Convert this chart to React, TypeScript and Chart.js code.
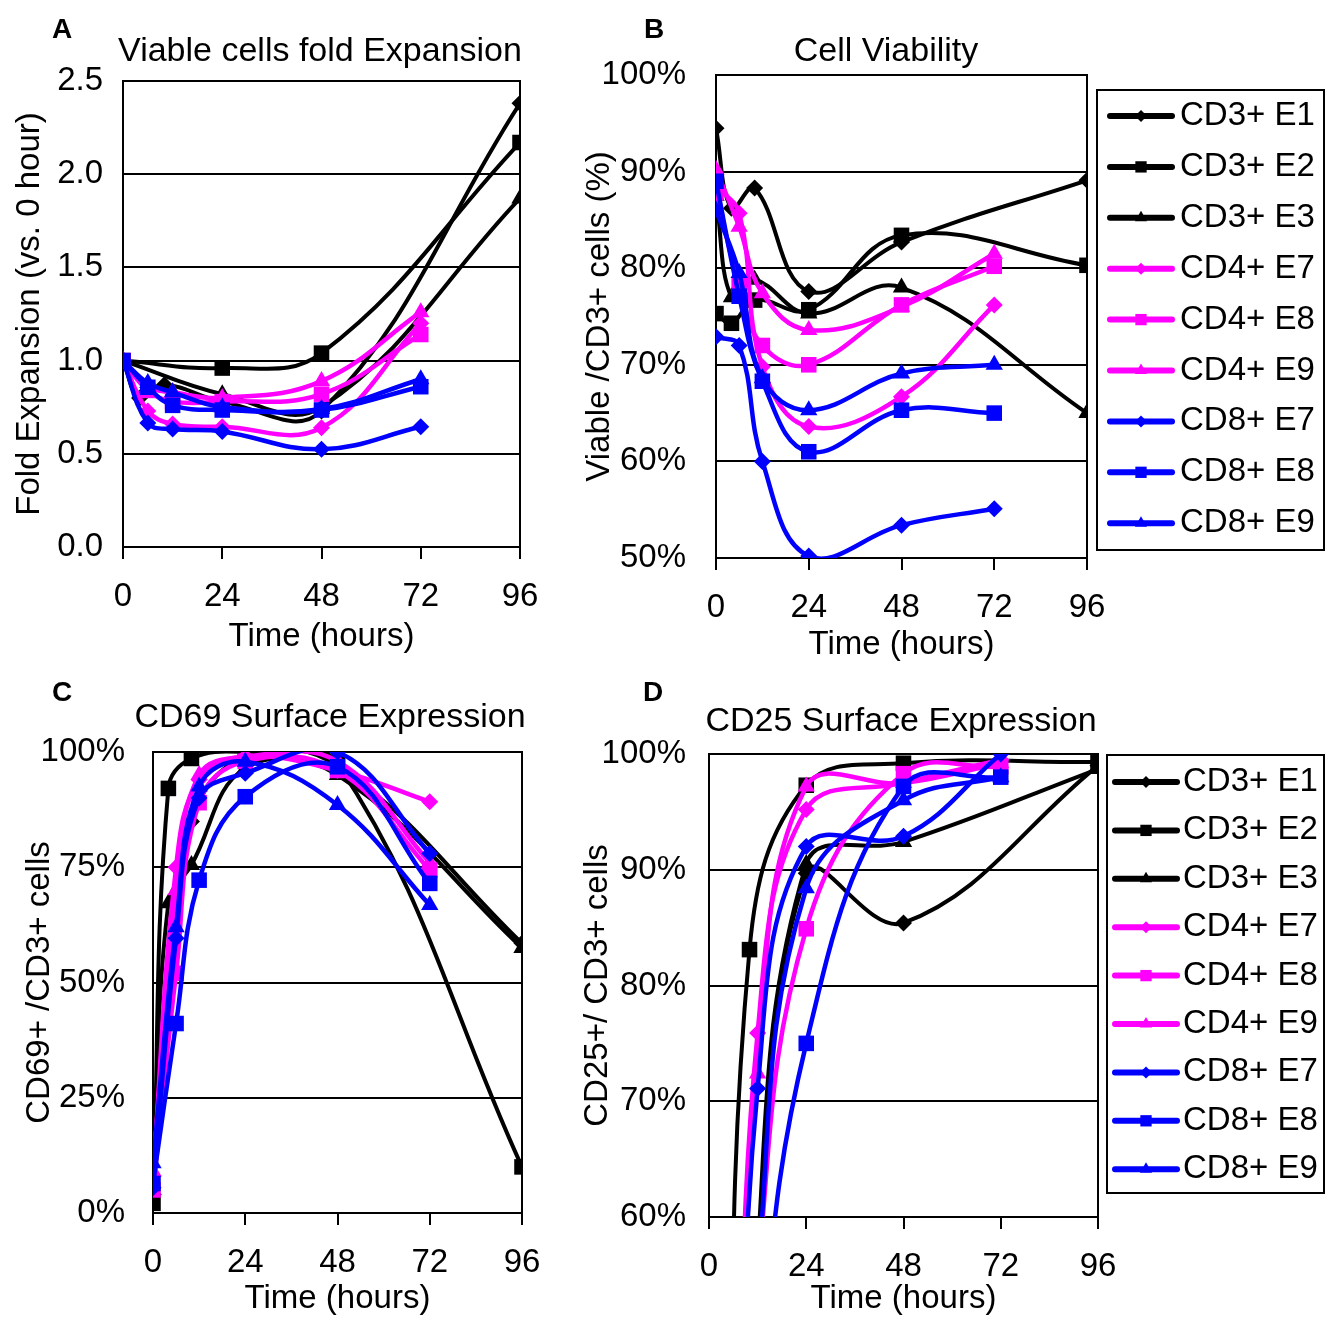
import React, { useEffect, useRef } from 'react';
import { Chart, registerables } from 'chart.js';

Chart.register(...registerables);

const FONT = '"Liberation Sans", Arial, Helvetica, sans-serif';
const FS = 33;
const TITLE_FS = 34;

// ---------- categories / ticks ----------
const seriesNames = ['CD3+ E1', 'CD3+ E2', 'CD3+ E3', 'CD4+ E7', 'CD4+ E8', 'CD4+ E9', 'CD8+ E7', 'CD8+ E8', 'CD8+ E9'];
const timeTicks = [0, 24, 48, 72, 96];
const hoursCD3 = [0, 4, 10, 24, 48, 96];
const hoursCD3Sparse = [0, 24, 48, 96];
const hoursSubset = [0, 6, 12, 24, 48, 72];

const foldTicks = [0, 0.5, 1, 1.5, 2, 2.5];
const viabilityTicks = [50, 60, 70, 80, 90, 100];
const cd69Ticks = [0, 25, 50, 75, 100];
const cd25Ticks = [60, 70, 80, 90, 100];

// ---------- Panel A: fold expansion ----------
const foldCD3E1 = [1.0, 0.8, 0.87, 0.78, 0.73, 2.38];
const foldCD3E2 = [1.0, 0.96, 1.04, 2.17];
const foldCD3E3 = [1.0, 0.82, 0.75, 1.87];
const foldCD4E7 = [1.0, 0.73, 0.66, 0.645, 0.64, 1.2];
const foldCD4E8 = [1.0, 0.84, 0.78, 0.78, 0.82, 1.14];
const foldCD4E9 = [1.0, 0.86, 0.83, 0.8, 0.89, 1.26];
const foldCD8E7 = [1.0, 0.665, 0.633, 0.62, 0.524, 0.645];
const foldCD8E8 = [1.0, 0.857, 0.76, 0.735, 0.735, 0.86];
const foldCD8E9 = [1.0, 0.88, 0.83, 0.75, 0.74, 0.9];

// ---------- Panel B: viability (%) ----------
const viaCD3E1 = [94.5, 86.2, 88.3, 77.6, 82.7, 89.1];
const viaCD3E2 = [75.3, 74.3, 76.7, 75.7, 83.4, 80.3];
const viaCD3E3 = [87.5, 77.0, 78.8, 75.3, 78.0, 65.0];
const viaCD4E7 = [88.5, 85.7, 69.8, 63.6, 66.7, 76.2];
const viaCD4E8 = [87.8, 78.3, 72.0, 70.0, 76.2, 80.2];
const viaCD4E9 = [90.2, 84.3, 77.4, 73.6, 76.0, 81.5];
const viaCD8E7 = [72.9, 72.0, 60.0, 50.2, 53.4, 55.1];
const viaCD8E8 = [89.0, 77.1, 68.3, 61.0, 65.3, 65.0];
const viaCD8E9 = [86.0, 79.5, 68.6, 65.3, 69.1, 70.0];

// ---------- Panel C: CD69 (%) ----------
const cd69CD3E1 = [4, 41.9, 84.9, 99.0, 97.0, 58.5];
const cd69CD3E2 = [2.1, 92.1, 98.6, 100, 97.5, 10.0];
const cd69CD3E3 = [5, 67.2, 75.5, 96.5, 95.0, 57.5];
const cd69CD4E7 = [8, 75.0, 94.0, 99.0, 96.0, 89.2];
const cd69CD4E8 = [5, 52.0, 89.0, 98.0, 96.0, 74.4];
const cd69CD4E9 = [9, 70.0, 95.0, 99.0, 98.0, 76.0];
const cd69CD8E7 = [5.5, 59.6, 90.0, 95.4, 100, 78.0];
const cd69CD8E8 = [6.4, 41.1, 72.2, 90.3, 96.8, 71.5];
const cd69CD8E9 = [10.8, 62.0, 92.5, 97.9, 88.5, 66.8];

// ---------- Panel D: CD25 (%) ----------
const cd25CD3E1 = [3, 20, 45, 89.7, 85.4, 99.0];
const cd25CD3E2 = [2, 20, 83.1, 97.3, 99.2, 99.3];
const cd25CD3E3 = [3, 22, 48, 90.5, 92.4, 98.7];
const cd25CD4E7 = [3, 30, 75.9, 95.2, 97.5, 99.5];
const cd25CD4E8 = [2, 22, 55, 84.9, 98.3, 98.9];
const cd25CD4E9 = [3, 28, 72.4, 97.2, 97.5, 99.2];
const cd25CD8E7 = [3, 26, 71.1, 92.0, 92.9, 100];
const cd25CD8E8 = [2, 15, 45, 75.0, 97.2, 98.0];
const cd25CD8E9 = [2, 20, 55, 88.4, 96.0, 98.0];

const panelASeries = [
  [hoursCD3, foldCD3E1], [hoursCD3Sparse, foldCD3E2], [hoursCD3Sparse, foldCD3E3],
  [hoursSubset, foldCD4E7], [hoursSubset, foldCD4E8], [hoursSubset, foldCD4E9],
  [hoursSubset, foldCD8E7], [hoursSubset, foldCD8E8], [hoursSubset, foldCD8E9],
];
const panelBSeries = [
  [hoursCD3, viaCD3E1], [hoursCD3, viaCD3E2], [hoursCD3, viaCD3E3],
  [hoursSubset, viaCD4E7], [hoursSubset, viaCD4E8], [hoursSubset, viaCD4E9],
  [hoursSubset, viaCD8E7], [hoursSubset, viaCD8E8], [hoursSubset, viaCD8E9],
];
const panelCSeries = [
  [hoursCD3, cd69CD3E1], [hoursCD3, cd69CD3E2], [hoursCD3, cd69CD3E3],
  [hoursSubset, cd69CD4E7], [hoursSubset, cd69CD4E8], [hoursSubset, cd69CD4E9],
  [hoursSubset, cd69CD8E7], [hoursSubset, cd69CD8E8], [hoursSubset, cd69CD8E9],
];
const panelDSeries = [
  [hoursCD3, cd25CD3E1], [hoursCD3, cd25CD3E2], [hoursCD3, cd25CD3E3],
  [hoursSubset, cd25CD4E7], [hoursSubset, cd25CD4E8], [hoursSubset, cd25CD4E9],
  [hoursSubset, cd25CD8E7], [hoursSubset, cd25CD8E8], [hoursSubset, cd25CD8E9],
];

// ---------- styles ----------
const seriesColors = ['#000000', '#000000', '#000000', '#ff00ff', '#ff00ff', '#ff00ff', '#0000ff', '#0000ff', '#0000ff'];
const seriesMarkers = ['rectRot', 'rect', 'triangle', 'rectRot', 'rect', 'triangle', 'rectRot', 'rect', 'triangle'];
const markerRadius: Record<string, number> = { rectRot: 8.5, rect: 11, triangle: 10 };
const legendMarkerRadius: Record<string, number> = { rectRot: 6, rect: 8, triangle: 7 };

function drawMarker(ctx: CanvasRenderingContext2D, style: string, x: number, y: number, r: number, color: string) {
  ctx.beginPath();
  if (style === 'rect') {
    const s = r * Math.SQRT1_2;
    ctx.rect(x - s, y - s, 2 * s, 2 * s);
  } else if (style === 'rectRot') {
    ctx.moveTo(x, y - r);
    ctx.lineTo(x + r, y);
    ctx.lineTo(x, y + r);
    ctx.lineTo(x - r, y);
    ctx.closePath();
  } else {
    for (let k = 0; k < 3; k++) {
      const ang = (k * 2 * Math.PI) / 3;
      const px = x + Math.sin(ang) * r;
      const py = y - Math.cos(ang) * r;
      if (k === 0) ctx.moveTo(px, py);
      else ctx.lineTo(px, py);
    }
    ctx.closePath();
  }
  ctx.fillStyle = color;
  ctx.fill();
}

function makeDecor(d: any) {
  return {
    id: 'panelDecor',
    beforeDatasetsDraw(chart: any) {
      const { ctx, chartArea: a } = chart;
      ctx.save();
      ctx.strokeStyle = '#000';
      ctx.lineWidth = 2;
      ctx.strokeRect(a.left, a.top, a.right - a.left, a.bottom - a.top);
      ctx.restore();
    },
    afterDraw(chart: any) {
      const ctx: CanvasRenderingContext2D = chart.ctx;
      ctx.save();
      ctx.fillStyle = '#000';
      ctx.textAlign = 'center';
      ctx.textBaseline = 'middle';
      ctx.font = `${TITLE_FS}px ${FONT}`;
      ctx.fillText(d.title, d.titleX, d.titleY);
      ctx.font = `bold 28px ${FONT}`;
      ctx.fillText(d.letter, d.letterX, d.letterY);
      const lg = d.legend;
      if (lg) {
        ctx.strokeStyle = '#000';
        ctx.lineWidth = 2;
        ctx.strokeRect(lg.x, lg.y, lg.w, lg.h);
        chart.data.datasets.forEach((ds: any, i: number) => {
          const cy = lg.firstY + i * lg.rowH;
          ctx.strokeStyle = ds.borderColor;
          ctx.lineWidth = 6;
          ctx.lineCap = 'round';
          ctx.beginPath();
          ctx.moveTo(lg.lineX1, cy);
          ctx.lineTo(lg.lineX2, cy);
          ctx.stroke();
          drawMarker(ctx, ds.pointStyle, (lg.lineX1 + lg.lineX2) / 2, cy, legendMarkerRadius[ds.pointStyle], ds.borderColor);
          ctx.fillStyle = '#000';
          ctx.font = `${FS}px ${FONT}`;
          ctx.textAlign = 'left';
          ctx.textBaseline = 'middle';
          ctx.fillText(ds.label, lg.textX, cy);
        });
      }
      ctx.restore();
    },
  };
}

const pct = (v: number) => `${v}%`;

const panels = [
  {
    key: 'A', left: 0, top: 0, width: 560, height: 665,
    padding: { left: 0, top: 81, right: 40, bottom: 0 }, yAxisWidth: 123, xAxisHeight: 118,
    yMin: 0, yMax: 2.5, yTicks: foldTicks, yFormat: (v: number) => v.toFixed(1),
    yTitle: 'Fold Expansion (vs. 0 hour)', yTitlePad: 10, yTickPad: 20, xTitlePad: 8,
    series: panelASeries,
    decor: { title: 'Viable cells fold Expansion', titleX: 320, titleY: 52, letter: 'A', letterX: 62, letterY: 30 },
  },
  {
    key: 'B', left: 560, top: 0, width: 765, height: 665,
    padding: { left: 0, top: 75, right: 238, bottom: 0 }, yAxisWidth: 156, xAxisHeight: 107,
    yMin: 50, yMax: 100, yTicks: viabilityTicks, yFormat: pct,
    yTitle: 'Viable /CD3+ cells (%)', yTitlePad: 20, yTickPad: 30, xTitlePad: 0,
    series: panelBSeries,
    decor: {
      title: 'Cell Viability', titleX: 326, titleY: 52, letter: 'B', letterX: 94, letterY: 30,
      legend: { x: 537, y: 90, w: 227, h: 460, firstY: 116, rowH: 50.9, lineX1: 550, lineX2: 612, textX: 620 },
    },
  },
  {
    key: 'C', left: 0, top: 665, width: 560, height: 654,
    padding: { left: 0, top: 87, right: 38, bottom: 0 }, yAxisWidth: 153, xAxisHeight: 106,
    yMin: 0, yMax: 100, yTicks: cd69Ticks, yFormat: pct,
    yTitle: 'CD69+ /CD3+ cells', yTitlePad: 20, yTickPad: 28, xTitlePad: 0,
    series: panelCSeries,
    decor: { title: 'CD69 Surface Expression', titleX: 330, titleY: 53, letter: 'C', letterX: 62, letterY: 28 },
  },
  {
    key: 'D', left: 560, top: 665, width: 765, height: 654,
    padding: { left: 0, top: 89, right: 227, bottom: 0 }, yAxisWidth: 149, xAxisHeight: 102,
    yMin: 60, yMax: 100, yTicks: cd25Ticks, yFormat: pct,
    yTitle: 'CD25+/ CD3+ cells', yTitlePad: 18, yTickPad: 23, xTitlePad: 0,
    series: panelDSeries,
    decor: {
      title: 'CD25 Surface Expression', titleX: 341, titleY: 57, letter: 'D', letterX: 93, letterY: 28,
      legend: { x: 547, y: 90, w: 217, h: 438, firstY: 117, rowH: 48.4, lineX1: 555, lineX2: 617, textX: 623 },
    },
  },
];

function buildConfig(p: any): any {
  const datasets = p.series.map(([hours, values]: number[][], i: number) => ({
    label: seriesNames[i],
    data: hours.map((h, k) => ({ x: h, y: values[k] })),
    borderColor: seriesColors[i],
    backgroundColor: seriesColors[i],
    pointBackgroundColor: seriesColors[i],
    pointBorderColor: seriesColors[i],
    pointBorderWidth: 0,
    pointStyle: seriesMarkers[i],
    pointRadius: markerRadius[seriesMarkers[i]],
    borderWidth: i < 3 ? 4 : 4.5,
    tension: 0.4,
    cubicInterpolationMode: 'default',
    capBezierPoints: false,
    fill: false,
    order: -i,
  }));
  const tickFont = { family: FONT, size: FS };
  return {
    type: 'line',
    data: { datasets },
    plugins: [makeDecor(p.decor)],
    options: {
      animation: false,
      responsive: false,
      devicePixelRatio: 1,
      events: [],
      layout: { padding: p.padding },
      plugins: { legend: { display: false }, tooltip: { enabled: false }, title: { display: false } },
      scales: {
        x: {
          type: 'linear',
          min: 0,
          max: 96,
          afterBuildTicks: (s: any) => { s.ticks = timeTicks.map((v) => ({ value: v })); },
          afterFit: (s: any) => { s.height = p.xAxisHeight; },
          grid: { drawOnChartArea: false, drawTicks: true, tickLength: 12, color: '#000', lineWidth: 2 },
          border: { display: true, color: '#000', width: 2 },
          ticks: { color: '#000', font: tickFont, padding: 18, maxRotation: 0, autoSkip: false, callback: (v: number) => String(v) },
          title: { display: true, text: 'Time (hours)', color: '#000', font: tickFont, padding: { top: 0, bottom: p.xTitlePad } },
        },
        y: {
          type: 'linear',
          min: p.yMin,
          max: p.yMax,
          afterBuildTicks: (s: any) => { s.ticks = p.yTicks.map((v: number) => ({ value: v })); },
          afterFit: (s: any) => { s.width = p.yAxisWidth; },
          grid: { drawTicks: false, color: '#000', lineWidth: 2 },
          border: { display: true, color: '#000', width: 2 },
          ticks: { color: '#000', font: tickFont, padding: p.yTickPad, autoSkip: false, callback: (v: number) => p.yFormat(v) },
          title: { display: true, text: p.yTitle, color: '#000', font: tickFont, padding: { top: p.yTitlePad, bottom: 0 } },
        },
      },
    },
  };
}

function Panel({ p }: { p: any }) {
  const ref = useRef<HTMLCanvasElement | null>(null);
  useEffect(() => {
    if (!ref.current) return;
    const chart = new Chart(ref.current, buildConfig(p));
    return () => chart.destroy();
  }, [p]);
  return (
    <div style={{ position: 'absolute', left: p.left, top: p.top, width: p.width, height: p.height }}>
      <canvas ref={ref} width={p.width} height={p.height} style={{ width: p.width, height: p.height, display: 'block' }} />
    </div>
  );
}

export default function App() {
  return (
    <div style={{ position: 'absolute', left: 0, top: 0, width: 1325, height: 1319, background: '#fff', overflow: 'hidden' }}>
      {panels.map((p) => (
        <Panel key={p.key} p={p} />
      ))}
    </div>
  );
}
